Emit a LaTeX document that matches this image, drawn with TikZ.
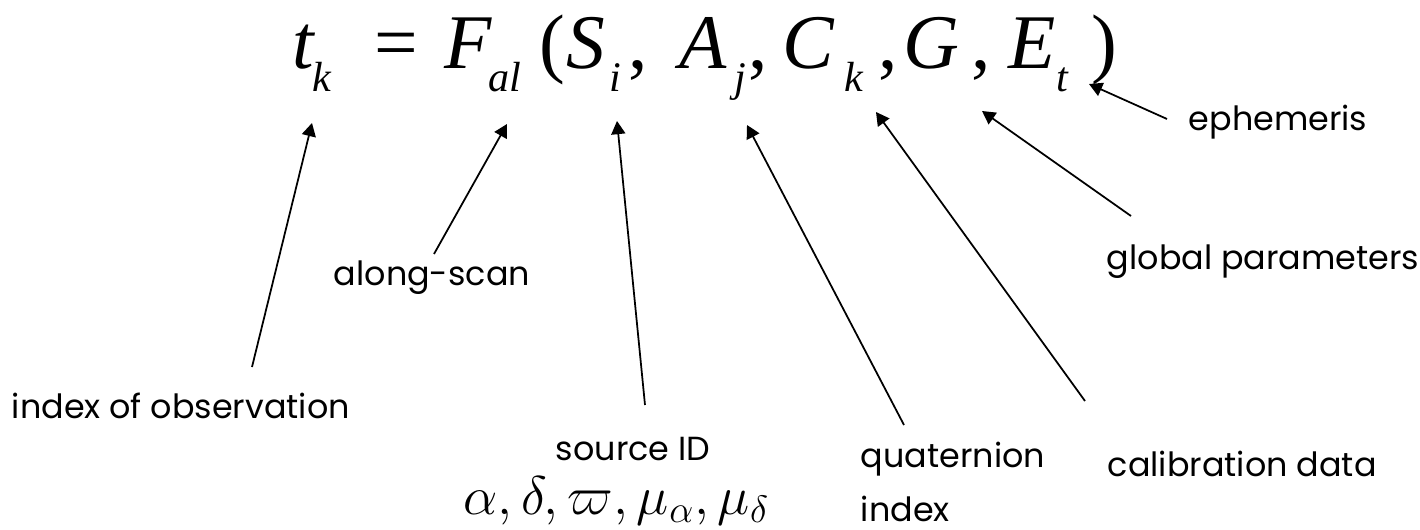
\RequirePackage{fix-cm}
\documentclass[tikz,border=0pt]{standalone}
\usepackage[no-math]{fontspec}
\newfontfamily\lblfont{Poppins}
\newfontfamily\eqfont{Liberation Serif}
\usetikzlibrary{arrows.meta}
% lowered, smaller index after a symbol of the equation
\newcommand{\eqsub}[2][0pt]{\kern#1\lower13pt\hbox{\fontsize{24}{24}\selectfont\itshape #2}}
\tikzset{
  every picture/.style={line width=1pt},
  eqtok/.style={anchor=base west, inner sep=0pt, font=\eqfont\fontsize{44}{48}\selectfont},
  lbl/.style={inner sep=0pt, font=\lblfont\fontsize{19}{31}\selectfont},
  ptr/.style={-{Triangle[length=7.5pt,width=8pt]}, line width=1pt},
}

\begin{document}
\begin{tikzpicture}[x=0.02cm, y=-0.02cm]
  \useasboundingbox (0,0) rectangle (1420,530);
  % the equation, one token at a time
  \node[eqtok] (tk)  at (292,69)  {\itshape t\eqsub[-1pt]{k}};
  \node[eqtok] (eq)  at (374,69)  {=};
  \node[eqtok] (Fal) at (444,69)  {\itshape F\eqsub[-2pt]{al}};
  \node[eqtok] (lp)  at (539,69)  {(};
  \node[eqtok] (Si)  at (566,69)  {\itshape S\eqsub[2pt]{i}};
  \node[eqtok] (c1)  at (628,69)  {,};
  \node[eqtok] (Aj)  at (679,69)  {\itshape A\eqsub[4pt]{j}};
  \node[eqtok] (c2)  at (748,69)  {,};
  \node[eqtok] (Ck)  at (782,69)  {\itshape C\eqsub[6pt]{k}};
  \node[eqtok] (c3)  at (878,69)  {,};
  \node[eqtok] (G)   at (903,69)  {\itshape G};
  \node[eqtok] (c4)  at (971,69)  {,};
  \node[eqtok] (Et)  at (1008,69) {\itshape E\eqsub{t}};
  \node[eqtok] (rp)  at (1091,69) {)};
  % where the pointers end, just under the terms
  \coordinate (tip-obs)  at (312,123);
  \coordinate (tip-scan) at (507,124);
  \coordinate (tip-src)  at (617,121);
  \coordinate (tip-quat) at (747,125);
  \coordinate (tip-cal)  at (876,112);
  \coordinate (tip-glob) at (982,111);
  \coordinate (tip-eph)  at (1089,84);
  % labels
  \node[lbl, anchor=base west] (obs)  at (11,418)   {index of observation};
  \node[lbl, anchor=base west] (scan) at (333,286)  {along-scan};
  \node[lbl, anchor=base]      (src)  at (633,460)  {source ID};
  \node[anchor=base, inner sep=0pt, font=\fontsize{31}{34}\selectfont] (srcpar) at (616,514) {$\alpha,\delta,\varpi,\mu_\alpha,\mu_\delta$};
  \node[lbl, anchor=north west, align=left] (quat) at (860,441) {quaternion\\index};
  \node[lbl, anchor=base west] (cal)  at (1107,476) {calibration data};
  \node[lbl, anchor=base west] (glob) at (1106,270) {global parameters};
  \node[lbl, anchor=base west] (eph)  at (1188,131) {ephemeris};
  % pointers
  \draw[ptr] ([shift={(241,-51)}]obs.base west) -- (tip-obs);
  \draw[ptr] ([shift={(101,-32)}]scan.base west) -- (tip-scan);
  \draw[ptr] ([shift={(12,-55)}]src.base) -- (tip-src);
  \draw[ptr] ([shift={(44,-16)}]quat.north west) -- (tip-quat);
  \draw[ptr] ([shift={(-22,-75)}]cal.base west) -- (tip-cal);
  \draw[ptr] ([shift={(25,-54)}]glob.base west) -- (tip-glob);
  \draw[ptr] ([shift={(-21,-12)}]eph.base west) -- (tip-eph);
\end{tikzpicture}
\end{document}
